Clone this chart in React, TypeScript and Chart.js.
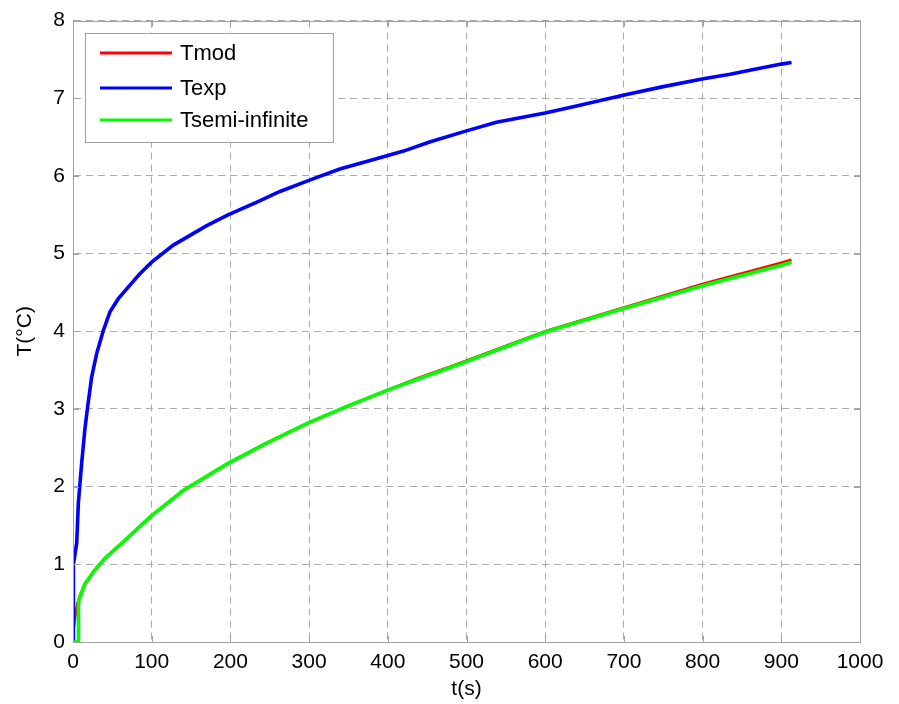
import React, { useEffect, useRef } from "react";
import { Chart, registerables } from "chart.js";

Chart.register(...registerables);

// ---- Data ----
const tmodTime = [1, 3, 6, 10, 15, 28, 41, 66, 98, 140, 197, 246, 299, 352, 399, 437, 479, 600, 699, 801, 900, 913];
const tmodTemp = [0.2, 0.35, 0.5, 0.62, 0.74, 0.93, 1.08, 1.31, 1.61, 1.95, 2.3, 2.56, 2.82, 3.05, 3.24, 3.39, 3.54, 4.0, 4.3, 4.61, 4.88, 4.92];

const texpTime = [0, 0.5, 4.7, 6.8, 11, 15, 18.6, 23.7, 30, 38.5, 47, 57.6, 74.6, 85, 100, 127.5, 170, 197, 233, 263, 299, 339, 399, 420, 454, 500, 538, 600, 644, 699, 750, 801, 835, 860, 900, 913];
const texpTemp = [0, 1.0, 1.27, 1.79, 2.3, 2.73, 3.03, 3.41, 3.71, 4.01, 4.25, 4.42, 4.62, 4.74, 4.89, 5.11, 5.36, 5.5, 5.66, 5.8, 5.94, 6.09, 6.26, 6.32, 6.44, 6.58, 6.69, 6.81, 6.91, 7.04, 7.15, 7.25, 7.31, 7.36, 7.44, 7.46];

const tsemiTime = [0, 6.5, 7, 15, 28, 41, 66, 98, 140, 197, 246, 299, 352, 399, 437, 479, 600, 699, 801, 900, 913];
const tsemiTemp = [0, 0, 0.52, 0.75, 0.93, 1.08, 1.31, 1.61, 1.95, 2.3, 2.56, 2.82, 3.05, 3.24, 3.38, 3.53, 3.99, 4.29, 4.59, 4.85, 4.89];

const seriesLabels = ["Tmod", "Texp", "Tsemi-infinite"];
const seriesColors = ["#ff0000", "#0000ff", "#00ff00"];

const xTicks = [0, 100, 200, 300, 400, 500, 600, 700, 800, 900, 1000];
const yTicks = [0, 1, 2, 3, 4, 5, 6, 7, 8];

const FONT = "'Liberation Sans', Arial, sans-serif";

const toPts = (xs: number[], ys: number[]) => xs.map((x, i) => ({ x, y: ys[i] }));

const boxLegendPlugin = {
  id: "boxLegend",
  afterDraw(chart: any) {
    const { ctx, chartArea: a } = chart;
    ctx.save();
    ctx.strokeStyle = "#a0a0a0";
    ctx.lineWidth = 1;
    ctx.setLineDash([]);
    ctx.strokeRect(Math.round(a.left) + 0.5, Math.round(a.top) + 0.5, Math.round(a.right - a.left), Math.round(a.bottom - a.top));
    const xs = chart.scales.x;
    const ys = chart.scales.y;
    ctx.beginPath();
    xTicks.forEach((v) => {
      const px = Math.round(xs.getPixelForValue(v)) + 0.5;
      ctx.moveTo(px, a.bottom); ctx.lineTo(px, a.bottom - 6);
      ctx.moveTo(px, a.top); ctx.lineTo(px, a.top + 6);
    });
    yTicks.forEach((v) => {
      const py = Math.round(ys.getPixelForValue(v)) + 0.5;
      ctx.moveTo(a.left, py); ctx.lineTo(a.left + 6, py);
      ctx.moveTo(a.right, py); ctx.lineTo(a.right - 6, py);
    });
    ctx.stroke();

    const lx = 85, ly = 33, lw = 248, lh = 109;
    ctx.fillStyle = "#ffffff";
    ctx.fillRect(lx, ly, lw, lh);
    ctx.strokeStyle = "#a0a0a0";
    ctx.strokeRect(lx + 0.5, ly + 0.5, lw, lh);
    const rows = [53, 88, 120];
    ctx.font = `22px ${FONT}`;
    ctx.textBaseline = "middle";
    ctx.textAlign = "left";
    seriesLabels.forEach((lab, i) => {
      ctx.strokeStyle = seriesColors[i];
      ctx.lineWidth = 3;
      ctx.beginPath();
      ctx.moveTo(100, rows[i]);
      ctx.lineTo(172, rows[i]);
      ctx.stroke();
      ctx.fillStyle = "#000";
      ctx.fillText(lab, 180, rows[i] + 1);
    });
    ctx.restore();
  },
};

export default function App() {
  const ref = useRef<HTMLCanvasElement | null>(null);

  useEffect(() => {
    if (!ref.current) return;
    const datasets = [
      { label: seriesLabels[0], data: toPts(tmodTime, tmodTemp), borderColor: seriesColors[0], borderWidth: 3, order: 3 },
      { label: seriesLabels[1], data: toPts(texpTime, texpTemp), borderColor: seriesColors[1], borderWidth: 3.6, order: 2 },
      { label: seriesLabels[2], data: toPts(tsemiTime, tsemiTemp), borderColor: seriesColors[2], borderWidth: 3.6, order: 1 },
    ].map((d) => ({ ...d, pointRadius: 0, fill: false, tension: 0, showLine: true, backgroundColor: d.borderColor }));

    const chart = new Chart(ref.current, {
      type: "scatter",
      data: { datasets } as any,
      options: {
        animation: false,
        responsive: false,
        devicePixelRatio: 1,
        layout: { padding: { left: 0, right: 39, top: 20, bottom: 0 } },
        plugins: { legend: { display: false }, tooltip: { enabled: false } },
        scales: {
          x: {
            type: "linear",
            min: 0,
            max: 1000,
            afterBuildTicks: (s: any) => { s.ticks = xTicks.map((v) => ({ value: v })); },
            afterFit: (s: any) => { s.height = 62; },
            grid: { color: "#aaaaaa", lineWidth: 1, drawTicks: false },
            border: { display: true, color: "#a0a0a0", dash: [7, 5] },
            ticks: { color: "#000", font: { family: FONT, size: 21 }, padding: 8, maxRotation: 0, callback: (v: any) => String(v) },
            title: { display: true, text: "t(s)", color: "#000", font: { family: FONT, size: 21 }, padding: { top: 0, bottom: 2 } },
          },
          y: {
            type: "linear",
            min: 0,
            max: 8,
            afterBuildTicks: (s: any) => { s.ticks = yTicks.map((v) => ({ value: v })); },
            afterFit: (s: any) => { s.width = 73; },
            grid: { color: "#aaaaaa", lineWidth: 1, drawTicks: false },
            border: { display: true, color: "#a0a0a0", dash: [7, 5] },
            ticks: { color: "#000", font: { family: FONT, size: 21 }, padding: 8, callback: (v: any) => String(v) },
            title: { display: true, text: "T(°C)", color: "#000", font: { family: FONT, size: 21 }, padding: { top: 13, bottom: 0 } },
          },
        },
      } as any,
      plugins: [boxLegendPlugin],
    });
    return () => chart.destroy();
  }, []);

  return (
    <div style={{ position: "absolute", left: 0, top: 0, width: 899, height: 704, background: "#fff" }}>
      <canvas ref={ref} width={899} height={704} style={{ width: 899, height: 704 }} />
    </div>
  );
}
